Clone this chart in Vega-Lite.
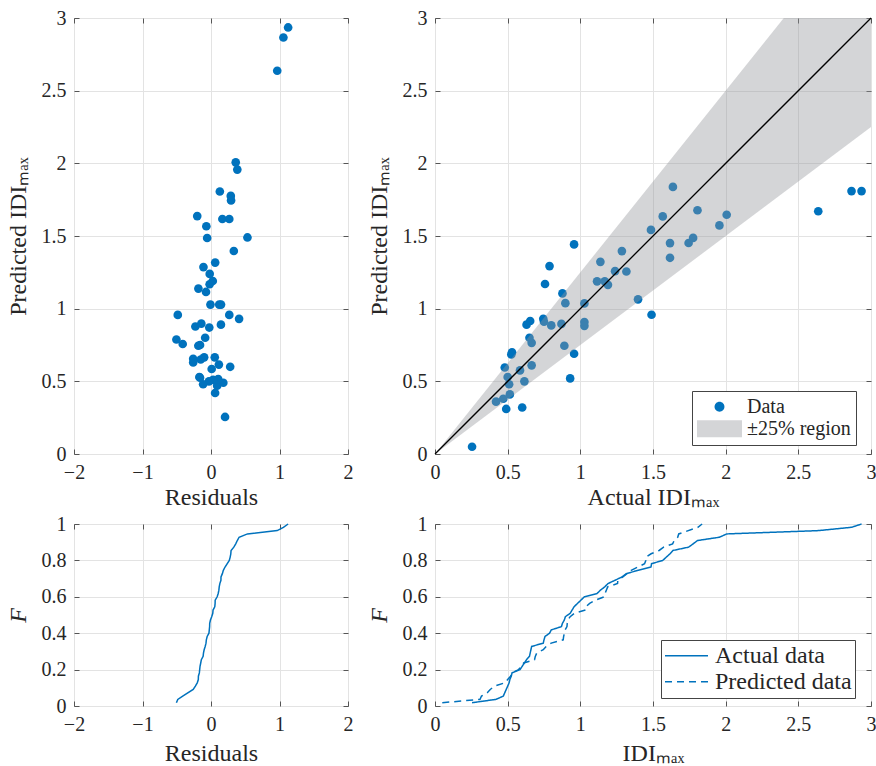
{
  "$schema": "https://vega.github.io/schema/vega-lite/v6.json",
  "background": "white",
  "padding": {"left": 5, "top": 7, "right": 0, "bottom": 0},
  "autosize": {"type": "pad"},
  "datasets": {
    "pts": [
      {"a": 0.255, "p": 0.05, "r": 0.205},
      {"a": 0.42, "p": 0.36, "r": 0.06},
      {"a": 0.47, "p": 0.38, "r": 0.09},
      {"a": 0.49, "p": 0.31, "r": 0.18},
      {"a": 0.515, "p": 0.41, "r": 0.105},
      {"a": 0.51, "p": 0.48, "r": 0.03},
      {"a": 0.5, "p": 0.53, "r": -0.03},
      {"a": 0.48, "p": 0.595, "r": -0.115},
      {"a": 0.53, "p": 0.7, "r": -0.17},
      {"a": 0.525, "p": 0.685, "r": -0.16},
      {"a": 0.585, "p": 0.575, "r": 0.01},
      {"a": 0.615, "p": 0.5, "r": 0.115},
      {"a": 0.6, "p": 0.32, "r": 0.28},
      {"a": 0.665, "p": 0.61, "r": 0.055},
      {"a": 0.665, "p": 0.765, "r": -0.1},
      {"a": 0.65, "p": 0.8, "r": -0.15},
      {"a": 0.63, "p": 0.89, "r": -0.26},
      {"a": 0.655, "p": 0.915, "r": -0.26},
      {"a": 0.745, "p": 0.93, "r": -0.185},
      {"a": 0.75, "p": 0.91, "r": -0.16},
      {"a": 0.8, "p": 0.885, "r": -0.085},
      {"a": 0.87, "p": 0.895, "r": -0.025},
      {"a": 0.89, "p": 0.745, "r": 0.145},
      {"a": 0.93, "p": 0.52, "r": 0.41},
      {"a": 0.957, "p": 0.69, "r": 0.267},
      {"a": 0.757, "p": 1.17, "r": -0.413},
      {"a": 0.788, "p": 1.293, "r": -0.505},
      {"a": 0.957, "p": 1.442, "r": -0.485},
      {"a": 0.877, "p": 1.105, "r": -0.228},
      {"a": 0.897, "p": 1.038, "r": -0.141},
      {"a": 1.028, "p": 1.036, "r": -0.008},
      {"a": 1.028, "p": 0.908, "r": 0.12},
      {"a": 1.028, "p": 0.882, "r": 0.146},
      {"a": 1.138, "p": 1.322, "r": -0.184},
      {"a": 1.115, "p": 1.188, "r": -0.073},
      {"a": 1.168, "p": 1.188, "r": -0.02},
      {"a": 1.19, "p": 1.164, "r": 0.026},
      {"a": 1.239, "p": 1.258, "r": -0.019},
      {"a": 1.286, "p": 1.396, "r": -0.11},
      {"a": 1.317, "p": 1.256, "r": 0.061},
      {"a": 1.397, "p": 1.064, "r": 0.333},
      {"a": 1.486, "p": 1.542, "r": -0.056},
      {"a": 1.49, "p": 0.958, "r": 0.532},
      {"a": 1.567, "p": 1.635, "r": -0.068},
      {"a": 1.637, "p": 1.838, "r": -0.201},
      {"a": 1.617, "p": 1.451, "r": 0.166},
      {"a": 1.617, "p": 1.35, "r": 0.267},
      {"a": 1.745, "p": 1.452, "r": 0.293},
      {"a": 1.776, "p": 1.487, "r": 0.289},
      {"a": 1.806, "p": 1.677, "r": 0.129},
      {"a": 1.957, "p": 1.573, "r": 0.384},
      {"a": 2.007, "p": 1.646, "r": 0.361},
      {"a": 2.637, "p": 1.67, "r": 0.967},
      {"a": 2.866, "p": 1.809, "r": 1.057},
      {"a": 2.935, "p": 1.809, "r": 1.126}
    ],
    "region": [
      {"x": 0, "lo": 0, "hi": 0},
      {"x": 3, "lo": 2.25, "hi": 3.75}
    ],
    "diag": [
      {"x": 0, "y": 0},
      {"x": 3, "y": 3}
    ]
  },
  "columns": 2,
  "spacing": {"row": 70, "column": 87},
  "bounds": "flush",
  "concat": [
    {
      "width": 274, "height": 436,
      "data": {"name": "pts"},
      "resolve": {"axis": {"x": "independent", "y": "independent"}},
      "layer": [
        {
          "mark": {"type": "circle", "size": 75, "opacity": 1, "color": "#0072BD"},
          "encoding": {
            "x": {"field": "r", "type": "quantitative", "scale": {"domain": [-2, 2], "nice": false},
                  "axis": {"title": "Residuals", "titleFontWeight": 400, "titlePadding": 3, "values": [-2, -1, 0, 1, 2]}},
            "y": {"field": "a", "type": "quantitative", "scale": {"domain": [0, 3], "nice": false},
                  "axis": {"title": "Predicted IDIₘₐₓ", "titleFontWeight": 400, "titlePadding": 11, "values": [0, 0.5, 1, 1.5, 2, 2.5, 3]}}
          }
        },
        {
          "mark": {"type": "point", "opacity": 0},
          "encoding": {
            "x": {"field": "r", "type": "quantitative", "scale": {"domain": [-2, 2], "nice": false},
                  "axis": {"orient": "top", "labels": false, "title": null, "grid": false, "values": [-2, -1, 0, 1, 2]}},
            "y": {"field": "a", "type": "quantitative", "scale": {"domain": [0, 3], "nice": false},
                  "axis": {"orient": "right", "labels": false, "title": null, "grid": false, "values": [0, 0.5, 1, 1.5, 2, 2.5, 3]}}
          }
        }
      ]
    },
    {
      "width": 436, "height": 436,
      "resolve": {"axis": {"x": "independent", "y": "independent"}},
      "layer": [
        {
          "data": {"name": "pts"},
          "mark": {"type": "circle", "size": 75, "opacity": 1},
          "encoding": {
            "x": {"field": "a", "type": "quantitative", "scale": {"domain": [0, 3], "nice": false},
                  "axis": {"title": "Actual IDIₘₐₓ", "titleFontWeight": 400, "titlePadding": 3, "values": [0, 0.5, 1, 1.5, 2, 2.5, 3]}},
            "y": {"field": "p", "type": "quantitative", "scale": {"domain": [0, 3], "nice": false},
                  "axis": {"title": "Predicted IDIₘₐₓ", "titleFontWeight": 400, "titlePadding": 11, "values": [0, 0.5, 1, 1.5, 2, 2.5, 3]}},
            "color": {
              "datum": "Data", "type": "nominal",
              "scale": {"domain": ["Data", "±25% region"], "range": ["#0072BD", "#D4D5D7"]},
              "legend": {
                "title": null, "orient": "none", "legendX": 618, "legendY": 373,
                "padding": 5, "rowPadding": 0, "clipHeight": 21.5,
                "symbolSize": 2025, "symbolStrokeWidth": 0, "symbolOpacity": 1, "labelOffset": 5,
                "labelFont": "Liberation Serif", "labelFontSize": 20, "labelColor": "#262626",
                "strokeColor": "#444444", "fillColor": "white", "cornerRadius": 0,
                "encode": {"symbols": {"update": {"shape": {"signal": "datum.value === 'Data' ? 'M -0.22 0 A 0.22 0.22 0 1 1 0.22 0 A 0.22 0.22 0 1 1 -0.22 0 Z' : 'M -1 -0.378 L 1 -0.378 L 1 0.378 L -1 0.378 Z'"}}}}
              }
            }
          }
        },
        {
          "data": {"name": "region"},
          "mark": {"type": "area", "color": "#94979C", "opacity": 0.4, "clip": true},
          "encoding": {
            "x": {"field": "x", "type": "quantitative", "scale": {"domain": [0, 3], "nice": false}, "axis": null},
            "y": {"field": "lo", "type": "quantitative", "scale": {"domain": [0, 3], "nice": false}, "axis": null},
            "y2": {"field": "hi"}
          }
        },
        {
          "data": {"name": "diag"},
          "mark": {"type": "line", "color": "#000000", "strokeWidth": 1.3},
          "encoding": {
            "x": {"field": "x", "type": "quantitative", "scale": {"domain": [0, 3], "nice": false}, "axis": null},
            "y": {"field": "y", "type": "quantitative", "scale": {"domain": [0, 3], "nice": false}, "axis": null}
          }
        },
        {
          "data": {"name": "diag"},
          "mark": {"type": "point", "opacity": 0},
          "encoding": {
            "x": {"field": "x", "type": "quantitative", "scale": {"domain": [0, 3], "nice": false},
                  "axis": {"orient": "top", "labels": false, "title": null, "grid": false, "values": [0, 0.5, 1, 1.5, 2, 2.5, 3]}},
            "y": {"field": "y", "type": "quantitative", "scale": {"domain": [0, 3], "nice": false},
                  "axis": {"orient": "right", "labels": false, "title": null, "grid": false, "values": [0, 0.5, 1, 1.5, 2, 2.5, 3]}}
          }
        }
      ]
    },
    {
      "width": 274, "height": 182,
      "data": {"name": "pts"},
      "transform": [
        {"window": [{"op": "cume_dist", "as": "F"}], "sort": [{"field": "r"}]}
      ],
      "resolve": {"axis": {"x": "independent", "y": "independent"}},
      "layer": [
        {
          "mark": {"type": "line", "color": "#0072BD", "strokeWidth": 1.5},
          "encoding": {
            "x": {"field": "r", "type": "quantitative", "scale": {"domain": [-2, 2], "nice": false},
                  "axis": {"title": "Residuals", "titleFontWeight": 400, "titlePadding": 7, "values": [-2, -1, 0, 1, 2]}},
            "y": {"field": "F", "type": "quantitative", "scale": {"domain": [0, 1], "nice": false},
                  "axis": {"title": "F", "titleFontWeight": 400, "titlePadding": 11, "titleFontStyle": "italic", "values": [0, 0.2, 0.4, 0.6, 0.8, 1]}}
          }
        },
        {
          "mark": {"type": "point", "opacity": 0},
          "encoding": {
            "x": {"field": "r", "type": "quantitative", "scale": {"domain": [-2, 2], "nice": false},
                  "axis": {"orient": "top", "labels": false, "title": null, "grid": false, "values": [-2, -1, 0, 1, 2]}},
            "y": {"field": "F", "type": "quantitative", "scale": {"domain": [0, 1], "nice": false},
                  "axis": {"orient": "right", "labels": false, "title": null, "grid": false, "values": [0, 0.2, 0.4, 0.6, 0.8, 1]}}
          }
        }
      ]
    },
    {
      "width": 436, "height": 182,
      "data": {"name": "pts"},
      "transform": [
        {"fold": ["a", "p"], "as": ["series", "v"]},
        {"window": [{"op": "cume_dist", "as": "F"}], "sort": [{"field": "v"}], "groupby": ["series"]}
      ],
      "resolve": {"axis": {"x": "independent", "y": "independent"}},
      "layer": [
        {
          "mark": {"type": "line", "color": "#0072BD", "strokeWidth": 1.5},
          "encoding": {
            "x": {"field": "v", "type": "quantitative", "scale": {"domain": [0, 3], "nice": false},
                  "axis": {"title": "IDIₘₐₓ", "titleFontWeight": 400, "titlePadding": 7, "values": [0, 0.5, 1, 1.5, 2, 2.5, 3]}},
            "y": {"field": "F", "type": "quantitative", "scale": {"domain": [0, 1], "nice": false},
                  "axis": {"title": "F", "titleFontWeight": 400, "titlePadding": 11, "titleFontStyle": "italic", "values": [0, 0.2, 0.4, 0.6, 0.8, 1]}},
            "strokeDash": {
              "field": "series", "type": "nominal",
              "scale": {"domain": ["a", "p"], "range": [[1, 0], [7, 5]]},
              "legend": {
                "title": null, "orient": "none", "legendX": 587, "legendY": 622,
                "padding": 3, "rowPadding": 0, "clipHeight": 25.5,
                "symbolType": "stroke", "symbolSize": 1849, "symbolStrokeWidth": 1.5,
                "symbolStrokeColor": "#0072BD", "labelOffset": 6,
                "labelFont": "Liberation Serif", "labelFontSize": 24, "labelColor": "#262626",
                "labelExpr": "datum.label == 'a' ? 'Actual data' : 'Predicted data'",
                "strokeColor": "#444444", "fillColor": "white", "cornerRadius": 0
              }
            }
          }
        },
        {
          "mark": {"type": "point", "opacity": 0},
          "encoding": {
            "x": {"field": "v", "type": "quantitative", "scale": {"domain": [0, 3], "nice": false},
                  "axis": {"orient": "top", "labels": false, "title": null, "grid": false, "values": [0, 0.5, 1, 1.5, 2, 2.5, 3]}},
            "y": {"field": "F", "type": "quantitative", "scale": {"domain": [0, 1], "nice": false},
                  "axis": {"orient": "right", "labels": false, "title": null, "grid": false, "values": [0, 0.2, 0.4, 0.6, 0.8, 1]}}
          }
        }
      ]
    }
  ],
  "config": {
    "font": "Liberation Serif",
    "view": {"stroke": "#555555", "strokeWidth": 1},
    "style": {"guide-title": {"fontWeight": "normal"}},
    "axis": {
      "labelFont": "Liberation Serif", "labelFontSize": 20, "labelColor": "#262626",
      "titleFont": "Liberation Serif", "titleFontSize": 24, "titleFontWeight": "normal", "titleColor": "#262626",
      "gridColor": "#E3E3E3", "gridWidth": 1, "gridOpacity": 1,
      "domain": false, "tickColor": "#555555", "tickSize": -5, "tickWidth": 1,
      "labelPadding": 13, "titlePadding": 8, "format": "~g", "labelFlush": false, "labelOverlap": false
    },
    "legend": {"labelFont": "Liberation Serif"}
  }
}
